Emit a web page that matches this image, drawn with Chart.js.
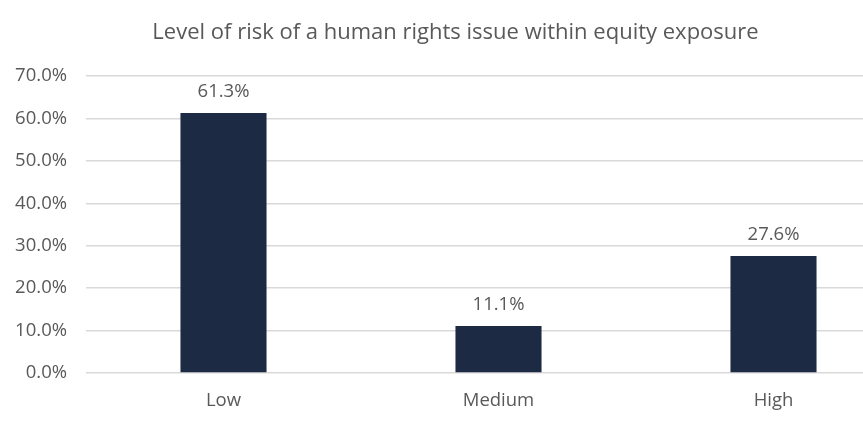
<!DOCTYPE html>
<html>
<head>
<meta charset="utf-8">
<script src="https://cdn.jsdelivr.net/npm/chart.js@4"></script>
<style>
  html, body { margin: 0; padding: 0; background: #fff; overflow: hidden; }
  #wrap { width: 932px; height: 426px; position: relative; }
</style>
</head>
<body>
<div id="wrap"><canvas id="chart"></canvas></div>
<script>
const categories = ['Low', 'Medium', 'High']
const riskShares = [61.3, 11.1, 27.6]
const yTicks = [0, 10, 20, 30, 40, 50, 60, 70]
const chartTitle = 'Level of risk of a human rights issue within equity exposure'

const FONT = "'Open Sans', 'Liberation Sans', sans-serif"
const GREY = '#595959'
const TXT = 18.5

// draws the value above each bar
const valueLabels = {
  id: 'valueLabels',
  afterDatasetsDraw(chart) {
    let ctx = chart.ctx
    let meta = chart.getDatasetMeta(0)
    ctx.save()
    ctx.font = TXT + 'px ' + FONT
    ctx.fillStyle = GREY
    ctx.textAlign = 'center'
    ctx.textBaseline = 'middle'
    meta.data.forEach((bar, i) => {
      ctx.fillText(riskShares[i].toFixed(1) + '%', bar.x, bar.y - 21)
    })
    ctx.restore()
  },
}

new Chart(document.getElementById('chart'), {
  type: 'bar',
  data: {
    labels: categories,
    datasets: [{
      data: riskShares,
      backgroundColor: '#1c2b43',
      barPercentage: 0.313,
      categoryPercentage: 1,
    }],
  },
  plugins: [valueLabels],
  options: {
    responsive: true,
    maintainAspectRatio: false,
    animation: false,
    layout: { padding: { top: 0, right: 21, left: 0, bottom: 0 } },
    plugins: {
      legend: { display: false },
      tooltip: { enabled: false },
      title: {
        display: true,
        text: chartTitle,
        color: GREY,
        font: { family: FONT, size: 22, weight: 'normal', lineHeight: 1.2 },
        padding: { top: 20, bottom: 29.6 },
      },
    },
    scales: {
      x: {
        grid: { display: false },
        border: { display: false },
        afterFit(scale) { scale.height = 53 },
        ticks: { color: GREY, font: { family: FONT, size: TXT }, padding: 9 },
      },
      y: {
        min: 0,
        max: 70,
        afterFit(scale) { scale.width = 86 },
        afterBuildTicks(scale) { scale.ticks = yTicks.map((v) => ({ value: v })) },
        grid: { color: '#d9d9d9', lineWidth: 1.5, drawTicks: false },
        border: { display: false },
        ticks: {
          color: GREY,
          font: { family: FONT, size: TXT },
          padding: 19,
          callback: (v) => v.toFixed(1) + '%',
        },
      },
    },
  },
})
</script>
</body>
</html>
